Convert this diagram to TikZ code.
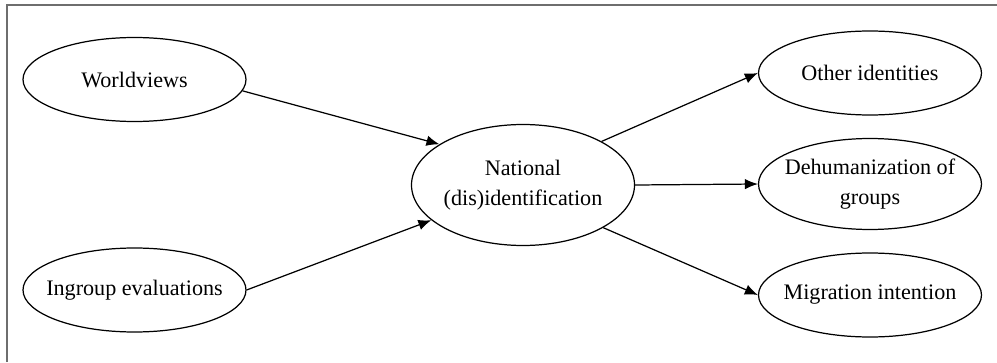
\documentclass[tikz,border=0pt]{standalone}
\usepackage{fontspec}
\setmainfont{Liberation Serif}
\usetikzlibrary{shapes,arrows.meta,positioning,calc}
\usepackage{xcolor}
\definecolor{framegray}{RGB}{110,110,110}

\begin{document}
\begin{tikzpicture}[
    construct/.style={draw, ellipse, line width=0.7pt, minimum width=4.46cm, minimum height=1.68cm, align=center, inner xsep=-0.4cm, inner ysep=-0.3cm, font=\fontsize{12.6}{17}\selectfont},
    path/.style={-{Latex[length=2.6mm,width=2.1mm]}, line width=0.7pt}]
    \useasboundingbox (0,0) rectangle (19.94,7.24);
    \draw[framegray, line width=0.9pt] (0.14,0) -- (0.14,7.14) -- (19.94,7.14);
    % predictors
    \node[construct] (world) at (2.69,5.65) {Worldviews};
    \node[construct] (ingroup) at (2.69,1.44) {Ingroup evaluations};
    % mediator
    \node[construct, minimum height=2.42cm] (national) at (10.46,3.54) {National\\(dis)identification};
    % outcomes
    \node[construct] (other) at (17.40,5.78) {Other identities};
    \node[construct, minimum height=1.82cm] (dehum) at (17.40,3.56) {Dehumanization of\\groups};
    \node[construct] (migration) at (17.40,1.34) {Migration intention};
    \draw[path] (world.-6) -- (national.154);
    \draw[path] (ingroup.east) -- (national.201);
    \draw[path] (national.29) -- (other.west);
    \draw[path] (national.east) -- (dehum.west);
    \draw[path] (national.-28) -- (migration.west);
\end{tikzpicture}
\end{document}
